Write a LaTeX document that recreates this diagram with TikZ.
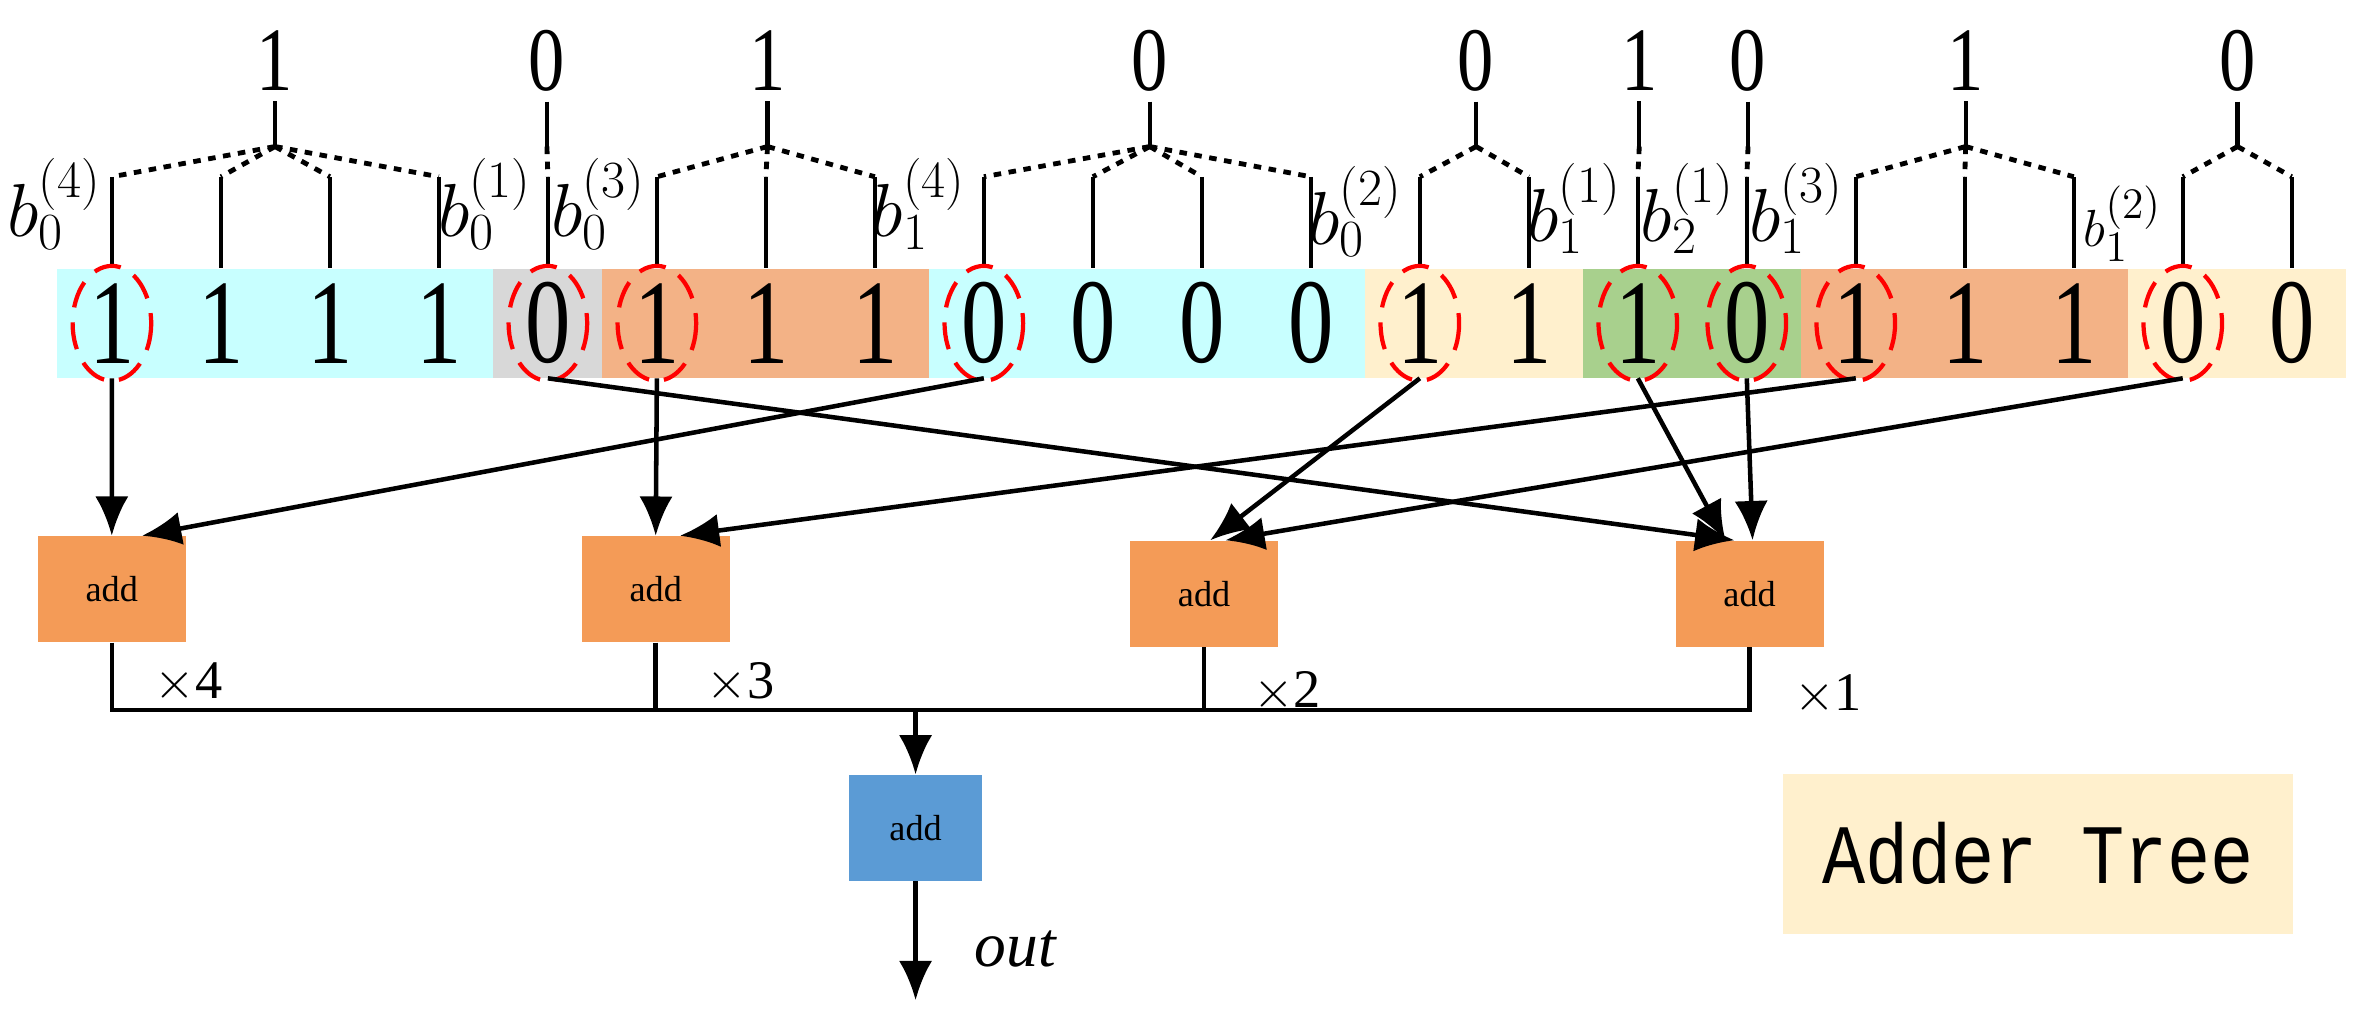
\documentclass[tikz,border=0pt]{standalone}
\usepackage{fontspec}
\setmainfont{Liberation Serif}
\newfontfamily\monofont{Liberation Mono}
\usetikzlibrary{arrows.meta}
\definecolor{cyanbg}{RGB}{200,255,255}
\definecolor{graybg}{RGB}{216,216,216}
\definecolor{orangebg}{RGB}{243,178,134}
\definecolor{creambg}{RGB}{255,240,205}
\definecolor{greenbg}{RGB}{168,208,141}
\definecolor{addorange}{RGB}{244,155,87}
\definecolor{addblue}{RGB}{91,155,213}
\tikzset{
  cell/.style={minimum width=36.1pt,minimum height=36pt,inner sep=0pt,font=\fontsize{40}{40}\selectfont},
  ring/.style={red,line width=1.4pt,dash pattern=on 9pt off 5pt},
  leg/.style={line width=1.4pt},
  branch/.style={line width=1.6pt,dash pattern=on 2.5pt off 2.5pt},
  addbox/.style={fill=addorange,minimum width=49pt,minimum height=35pt,inner sep=0pt,font=\fontsize{12}{12}\selectfont},
  conn/.style={line width=1.5pt,-{Latex[length=13pt,width=11pt]}},
  bus/.style={line width=1.5pt},
  blab/.style={font=\fontsize{24}{24}\selectfont\itshape},
  times/.style={font=\fontsize{18}{18}\selectfont},
}
\begin{document}
\begin{tikzpicture}[x=0.5pt,y=-0.5pt]
\useasboundingbox (0,0) rectangle (1568,674);
% bit cells
\foreach \i/\d/\c in {1/1/cyanbg,2/1/cyanbg,3/1/cyanbg,4/1/cyanbg,5/0/graybg,
  6/1/orangebg,7/1/orangebg,8/1/orangebg,9/0/cyanbg,10/0/cyanbg,11/0/cyanbg,
  12/0/cyanbg,13/1/creambg,14/1/creambg,15/1/greenbg,16/0/greenbg,17/1/orangebg,
  18/1/orangebg,19/1/orangebg,20/0/creambg,21/0/creambg}{
  \node[cell,fill=\c] (c\i) at ({38+36.07+72.14*(\i-1)},214) {\scalebox{0.75}[1]{\d}};
}
% weight digits and branches
\foreach \g/\d/\cx/\legs in {1/1/182/{1,2,3,4},2/0/362/{5},3/1/508/{6,7,8},
  4/0/761/{9,10,11,12},5/0/977/{13,14},6/1/1085/{15},7/0/1157/{16},
  8/1/1301/{17,18,19},9/0/1481/{20,21}}{
  \node[font=\fontsize{30}{30}\selectfont] (w\g) at (\cx,40) {\scalebox{0.8}[1]{\d}};
  \coordinate (j\g) at (\cx,97);
  \draw[leg] (w\g.south) -- (j\g);
  \foreach \l in \legs{
    \coordinate (t\l) at (c\l.north |- 0,117);
    \draw[branch] (j\g) -- (t\l);
    \draw[leg] (t\l) -- (c\l.north);
  }
}
% labels
\node[blab] at (36,135) {$b_0^{(4)}$};
\node[blab] at (321,135) {$b_0^{(1)}$};
\node[blab] at (396,135) {$b_0^{(3)}$};
\node[blab] at (608,135) {$b_1^{(4)}$};
\node[blab] at (897,140) {$b_0^{(2)}$};
\node[blab] at (1042,138) {$b_1^{(1)}$};
\node[blab] at (1117,138) {$b_2^{(1)}$};
\node[blab] at (1189,138) {$b_1^{(3)}$};
\node[blab,font=\fontsize{19}{19}\selectfont\itshape] at (1405,148) {$b_1^{(2)}$};
% selected bits
\foreach \i in {1,5,6,9,13,15,16,17,20}{
  \draw[ring] (c\i) ellipse (26 and 38);
}
% adders
\node[addbox] (a1) at (74,390) {add};
\node[addbox] (a2) at (434,390) {add};
\node[addbox] (a3) at (797,393) {add};
\node[addbox] (a4) at (1158,393) {add};
\node[addbox,fill=addblue,minimum width=44pt] (s) at (606,548) {add};
\coordinate (o) at (606,662);
% connections
\draw[conn] (c1.south) -- (a1.north);
\draw[conn] (c9.south) -- ([xshift=10pt]a1.north);
\draw[conn] (c6.south) -- (a2.north);
\draw[conn] (c17.south) -- ([xshift=8pt]a2.north);
\draw[conn] (c13.south) -- ([xshift=2pt]a3.north);
\draw[conn] (c20.south) -- ([xshift=7pt]a3.north);
\draw[conn] (c5.south) -- ([xshift=-5pt]a4.north);
\draw[conn] (c15.south) -- ([xshift=-8pt]a4.north);
\draw[conn] (c16.south) -- ([xshift=1pt]a4.north);
% bus
\coordinate (m) at (606,470);
\draw[bus] (a1.south) |- (m) -| (a4.south);
\draw[bus] (a2.south) -- (a2.south |- m);
\draw[bus] (a3.south) -- (a3.south |- m);
\draw[conn] (m) -- (s.north);
\draw[conn] (s.south) -- (o);
\node[times] at (125,452) {$\times$4};
\node[times] at (490,452) {$\times$3};
\node[times] at (852,458) {$\times$2};
\node[times] at (1210,460) {$\times$1};
\node[font=\fontsize{21}{21}\selectfont\itshape] at (672,628) {out};
% legend
\node[fill=creambg,minimum width=169pt,minimum height=53pt,font=\fontsize{28}{28}\selectfont\monofont] (lg) at (1349,565) {\scalebox{0.85}[1]{Adder Tree}};
\end{tikzpicture}
\end{document}
